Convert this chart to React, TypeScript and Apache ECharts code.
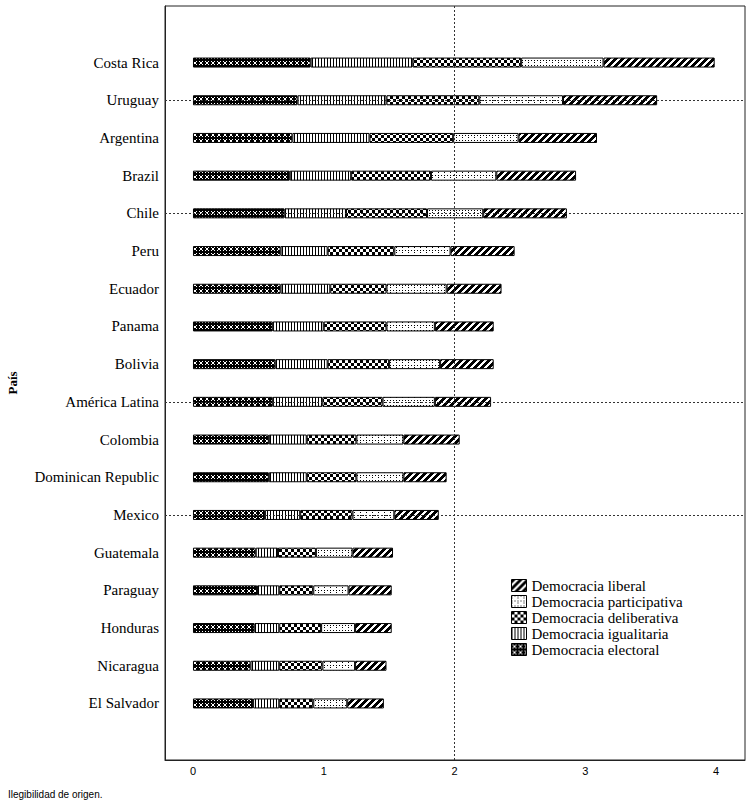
import React, { useEffect, useRef } from "react";
import * as echarts from "echarts";

const countries = [
  "Costa Rica", "Uruguay", "Argentina", "Brazil", "Chile", "Peru", "Ecuador", "Panama", "Bolivia",
  "América Latina", "Colombia", "Dominican Republic", "Mexico", "Guatemala", "Paraguay", "Honduras",
  "Nicaragua", "El Salvador",
];
const electoral = [0.90, 0.80, 0.76, 0.74, 0.70, 0.67, 0.67, 0.61, 0.63, 0.61, 0.58, 0.58, 0.55, 0.48, 0.49, 0.47, 0.44, 0.46];
const igualitaria = [0.78, 0.68, 0.59, 0.47, 0.47, 0.36, 0.38, 0.39, 0.40, 0.38, 0.29, 0.29, 0.27, 0.17, 0.17, 0.19, 0.22, 0.20];
const deliberativa = [0.83, 0.71, 0.64, 0.61, 0.62, 0.51, 0.43, 0.48, 0.47, 0.46, 0.38, 0.38, 0.40, 0.29, 0.26, 0.32, 0.33, 0.26];
const participativa = [0.63, 0.64, 0.50, 0.50, 0.43, 0.43, 0.46, 0.37, 0.39, 0.40, 0.36, 0.36, 0.32, 0.28, 0.27, 0.26, 0.25, 0.26];
const liberal = [0.85, 0.72, 0.60, 0.61, 0.64, 0.49, 0.42, 0.45, 0.41, 0.43, 0.43, 0.33, 0.34, 0.31, 0.33, 0.28, 0.24, 0.28];
const xTicks = [0, 1, 2, 3, 4];
const refCountries = ["Uruguay", "Chile", "América Latina", "Mexico"];
const refX = 2;

const seriesNames = [
  "Democracia electoral",
  "Democracia igualitaria",
  "Democracia deliberativa",
  "Democracia participativa",
  "Democracia liberal",
];

function makeTile(w: number, h: number, black: (x: number, y: number) => boolean) {
  const c = document.createElement("canvas");
  c.width = w;
  c.height = h;
  const ctx = c.getContext("2d")!;
  const img = ctx.createImageData(w, h);
  for (let y = 0; y < h; y++) {
    for (let x = 0; x < w; x++) {
      const i = (y * w + x) * 4;
      const b = black(x, y);
      img.data[i] = b ? 0 : 255;
      img.data[i + 1] = b ? 0 : 255;
      img.data[i + 2] = b ? 0 : 255;
      img.data[i + 3] = 255;
    }
  }
  ctx.putImageData(img, 0, 0);
  return c;
}

export default function App() {
  const ref = useRef<HTMLDivElement>(null);
  useEffect(() => {
    if (!ref.current) return;
    const tiles = [
      makeTile(6, 6, (x, y) => !((x === y || x === 5 - y) && x !== 0 && x !== 5)),
      makeTile(3, 1, (x) => x === 0),
      makeTile(6, 6, (x, y) => (x < 3) === (y < 3)),
      makeTile(6, 5, (x, y) => (x === 0 && y === 2) || (y === 0 && x % 3 === 0)),
      makeTile(7, 7, (x, y) => (x + y) % 7 < 4),
    ];
    const values = [electoral, igualitaria, deliberativa, participativa, liberal];
    const axisData = ["", ...countries, ""];
    const chart = echarts.init(ref.current, undefined, { renderer: "svg" });
    const series: any[] = seriesNames.map((name, k) => ({
      name,
      type: "bar",
      stack: "total",
      barWidth: 10,
      data: [null, ...values[k], null],
      itemStyle: {
        color: { image: tiles[k], repeat: "repeat" },
        borderColor: "#000",
        borderWidth: 1,
      },
      emphasis: { disabled: true },
      silent: true,
    }));
    series[0].markLine = {
      silent: true,
      symbol: "none",
      label: { show: false },
      lineStyle: { type: [2, 2], color: "#333", width: 1 },
      data: [{ xAxis: refX }, ...refCountries.map((c) => ({ yAxis: c }))],
    };
    chart.setOption({
      animation: false,
      grid: {
        left: 165,
        right: 5,
        top: 6,
        bottom: 49,
        show: true,
        borderColor: "#222",
        borderWidth: 1,
        backgroundColor: "transparent",
        outerBoundsMode: "none",
        containLabel: false,
      },
      xAxis: {
        type: "value",
        min: -0.214,
        max: 4.222,
        axisLine: { show: true, lineStyle: { color: "#222" } },
        axisTick: { show: false },
        splitLine: { show: false },
        axisLabel: {
          customValues: xTicks,
          color: "#000",
          fontFamily: "Liberation Sans",
          fontSize: 11,
          margin: 5,
        },
      },
      yAxis: {
        type: "category",
        inverse: true,
        data: axisData,
        name: "País",
        nameLocation: "middle",
        nameRotate: 90,
        nameGap: 146,
        nameTextStyle: { fontFamily: "Liberation Serif", fontWeight: "bold", fontSize: 13, color: "#000" },
        axisLine: { show: true, onZero: false, lineStyle: { color: "#222" } },
        axisTick: { show: false },
        axisLabel: { color: "#000", fontFamily: "Liberation Serif", fontSize: 15, margin: 6, interval: 0 },
      },
      legend: {
        orient: "vertical",
        left: 511,
        top: 578,
        padding: 0,
        itemWidth: 15,
        itemHeight: 12,
        itemGap: 1,
        icon: "rect",
        selectedMode: false,
        data: [...seriesNames].reverse(),
        itemStyle: { borderColor: "#000", borderWidth: 1 },
        textStyle: { fontFamily: "Liberation Serif", fontSize: 15, color: "#000" },
      },
      graphic: [
        {
          type: "text",
          left: 8,
          top: 789,
          style: { text: "Ilegibilidad de origen.", fontFamily: "Liberation Sans", fontSize: 10, fill: "#000" },
        },
      ],
      series,
    });
    return () => chart.dispose();
  }, []);
  return <div ref={ref} style={{ position: "fixed", left: 0, top: 0, width: 750, height: 809, background: "#fff" }} />;
}
